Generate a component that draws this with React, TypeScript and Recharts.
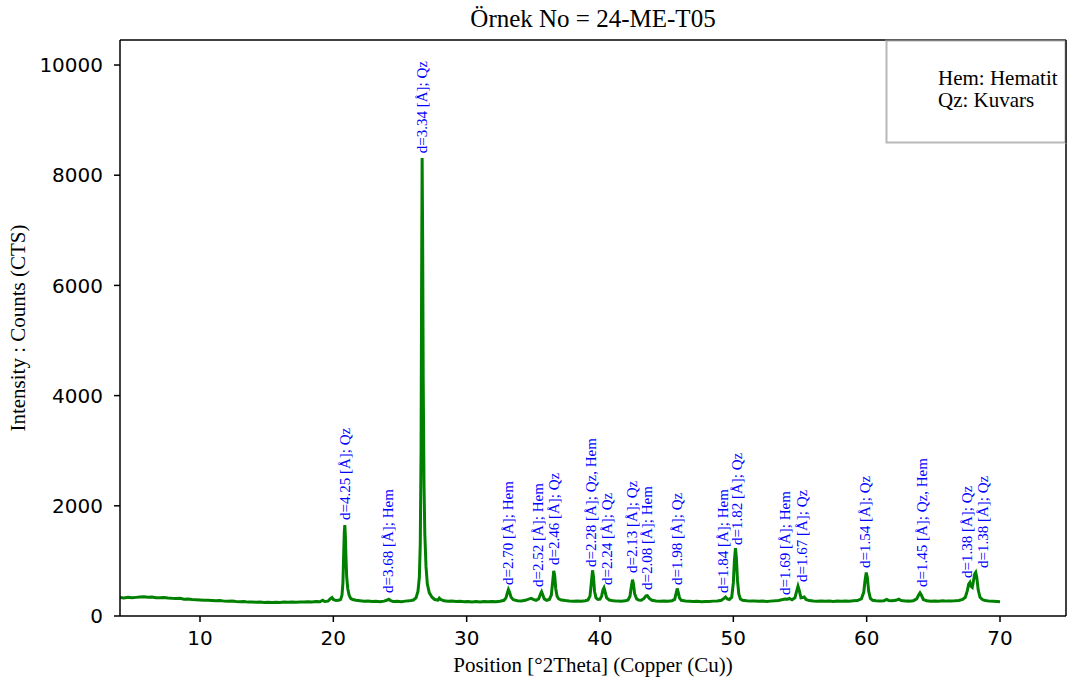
import React from 'react';
import { ComposedChart, Line, Scatter, XAxis, YAxis, ReferenceLine } from 'recharts';

// XRD scan: [2Theta (deg), counts]
const scan: [number, number][] = [
  [4.0, 335], [4.3, 328], [4.6, 340], [4.9, 332], [5.2, 338], [5.5, 345], [5.8, 350], [6.1, 341],
  [6.4, 346], [6.7, 333], [7.0, 330], [7.3, 337], [7.6, 325], [7.9, 320], [8.2, 318], [8.5, 322],
  [8.8, 305], [9.1, 308], [9.4, 300], [9.7, 296], [10.0, 292], [10.3, 288], [10.6, 284], [10.9, 280],
  [11.2, 276], [11.5, 281], [11.8, 270], [12.1, 266], [12.4, 270], [12.7, 262], [13.0, 258], [13.3, 262],
  [13.6, 252], [13.9, 256], [14.2, 248], [14.5, 253], [14.8, 245], [15.1, 250], [15.4, 243], [15.7, 248],
  [16.0, 246], [16.3, 252], [16.6, 248], [16.9, 254], [17.2, 250], [17.5, 256], [17.8, 252], [18.1, 258],
  [18.4, 255], [18.7, 262], [19.0, 258], [19.2, 285], [19.35, 262], [19.6, 270], [19.8, 320], [19.9, 335],
  [20.0, 300], [20.2, 280], [20.4, 285], [20.55, 300], [20.65, 380], [20.72, 600], [20.78, 1150],
  [20.82, 1500], [20.86, 1650], [20.9, 1480], [20.95, 1050], [21.0, 720], [21.08, 500], [21.18, 380],
  [21.3, 320], [21.45, 300], [21.7, 285], [22.0, 278], [22.3, 268], [22.6, 272], [22.9, 262], [23.2, 266],
  [23.5, 258], [23.8, 270], [24.0, 285], [24.15, 305], [24.3, 280], [24.5, 262], [24.8, 268], [25.1, 260],
  [25.4, 270], [25.7, 275], [26.0, 290], [26.2, 330], [26.35, 450], [26.45, 700], [26.52, 1300],
  [26.58, 3000], [26.62, 6000], [26.66, 8310], [26.7, 6800], [26.74, 4300], [26.8, 2400], [26.86, 1500],
  [26.95, 900], [27.05, 580], [27.2, 420], [27.4, 340], [27.6, 300], [27.85, 290], [27.95, 325],
  [28.05, 300], [28.3, 275], [28.6, 268], [28.9, 272], [29.2, 262], [29.5, 266], [29.8, 258], [30.1, 264],
  [30.4, 255], [30.7, 262], [31.0, 256], [31.3, 262], [31.6, 258], [31.9, 264], [32.2, 260], [32.5, 268],
  [32.8, 285], [32.95, 330], [33.05, 420], [33.13, 480], [33.22, 430], [33.33, 340], [33.5, 295],
  [33.8, 278], [34.1, 272], [34.4, 285], [34.7, 310], [34.85, 320], [35.0, 300], [35.2, 285], [35.4, 310],
  [35.54, 400], [35.62, 440], [35.7, 390], [35.82, 310], [36.0, 285], [36.2, 300], [36.35, 380],
  [36.45, 620], [36.53, 820], [36.6, 740], [36.68, 500], [36.78, 360], [36.9, 310], [37.1, 290],
  [37.4, 280], [37.7, 272], [38.0, 268], [38.3, 274], [38.6, 268], [38.9, 276], [39.1, 290], [39.25, 360],
  [39.35, 600], [39.44, 830], [39.51, 720], [39.59, 450], [39.7, 330], [39.85, 300], [40.0, 305],
  [40.12, 360], [40.22, 470], [40.3, 510], [40.38, 440], [40.5, 330], [40.7, 290], [41.0, 275],
  [41.3, 270], [41.6, 268], [41.9, 275], [42.1, 290], [42.25, 360], [42.35, 530], [42.44, 660],
  [42.51, 580], [42.6, 400], [42.75, 310], [42.9, 290], [43.1, 285], [43.3, 320], [43.45, 365],
  [43.55, 370], [43.7, 320], [43.9, 285], [44.2, 272], [44.5, 268], [44.8, 272], [45.1, 266], [45.4, 278],
  [45.6, 300], [45.7, 400], [45.79, 500], [45.87, 430], [45.96, 330], [46.1, 285], [46.4, 272],
  [46.7, 268], [47.0, 262], [47.3, 268], [47.6, 260], [47.9, 264], [48.2, 262], [48.5, 270], [48.8, 272],
  [49.1, 285], [49.3, 320], [49.42, 345], [49.55, 310], [49.7, 300], [49.88, 340], [50.0, 600],
  [50.08, 1000], [50.16, 1230], [50.23, 1050], [50.31, 650], [50.41, 400], [50.53, 310], [50.7, 285],
  [51.0, 275], [51.3, 270], [51.6, 272], [51.9, 266], [52.2, 270], [52.5, 264], [52.8, 270], [53.1, 275],
  [53.4, 282], [53.7, 300], [53.9, 310], [54.05, 305], [54.2, 318], [54.4, 295], [54.62, 330],
  [54.75, 450], [54.85, 540], [54.95, 460], [55.07, 330], [55.2, 335], [55.32, 345], [55.45, 300],
  [55.7, 280], [56.0, 272], [56.3, 268], [56.6, 274], [56.9, 266], [57.2, 270], [57.5, 264], [57.8, 272],
  [58.1, 266], [58.4, 270], [58.7, 268], [59.0, 275], [59.3, 280], [59.6, 310], [59.78, 430],
  [59.88, 650], [59.97, 790], [60.05, 700], [60.15, 450], [60.28, 320], [60.45, 285], [60.7, 275],
  [61.0, 272], [61.3, 278], [61.5, 300], [61.65, 282], [61.9, 275], [62.2, 285], [62.4, 305], [62.6, 280],
  [62.9, 272], [63.2, 270], [63.5, 278], [63.75, 310], [63.9, 380], [64.0, 420], [64.1, 380],
  [64.25, 300], [64.5, 275], [64.8, 270], [65.1, 274], [65.4, 268], [65.7, 276], [66.0, 270], [66.3, 272],
  [66.6, 275], [66.9, 282], [67.2, 300], [67.4, 340], [67.55, 460], [67.65, 580], [67.74, 610],
  [67.82, 540], [67.92, 520], [68.02, 650], [68.1, 760], [68.18, 790], [68.26, 700], [68.36, 480],
  [68.5, 340], [68.7, 295], [68.9, 280], [69.2, 270], [69.5, 266], [69.8, 262], [70.0, 258],
];

// Peak annotations: [2Theta, counts at label start, text]
const peakLabels: [number, number, string][] = [
  [20.87, 1742, 'd=4.25 [Å]; Qz'],
  [24.1, 417, 'd=3.68 [Å]; Hem'],
  [26.65, 8400, 'd=3.34 [Å]; Qz'],
  [33.1, 563, 'd=2.70 [Å]; Hem'],
  [35.35, 526, 'd=2.52 [Å]; Hem'],
  [36.55, 926, 'd=2.46 [Å]; Qz'],
  [39.33, 889, 'd=2.28 [Å]; Qz, Hem'],
  [40.53, 563, 'd=2.24 [Å]; Qz'],
  [42.4, 780, 'd=2.13 [Å]; Qz'],
  [43.53, 472, 'd=2.08 [Å]; Hem'],
  [45.78, 563, 'd=1.98 [Å]; Qz'],
  [49.23, 417, 'd=1.84 [Å]; Hem'],
  [50.28, 1289, 'd=1.82 [Å]; Qz'],
  [53.88, 381, 'd=1.69 [Å]; Hem'],
  [55.15, 617, 'd=1.67 [Å]; Qz'],
  [59.88, 871, 'd=1.54 [Å]; Qz'],
  [64.15, 526, 'd=1.45 [Å]; Qz, Hem'],
  [67.53, 690, 'd=1.38 [Å]; Qz'],
  [68.73, 871, 'd=1.38 [Å]; Qz'],
];

const xTicks = [10, 20, 30, 40, 50, 60, 70];
const yTicks = [0, 2000, 4000, 6000, 8000, 10000];
const legendLines = ['Hem: Hematit', 'Qz: Kuvars'];

const X_MIN = 4;
const X_MAX = 74.95;
const Y_MAX = 10454;

const W = 1069;
const H = 683;

const lineData = scan.map(([x, y]) => ({ x, y }));
const labelData = peakLabels.map(([x, y, text]) => ({ x, y, text }));

const serif = '"Liberation Serif", "Times New Roman", serif';

const LabelShape = (props: any) => {
  const { cx, cy, payload } = props;
  if (cx == null || cy == null) return null;
  return (
    <text
      x={cx}
      y={cy}
      transform={`rotate(-90 ${cx} ${cy})`}
      textAnchor="start"
      dominantBaseline="central"
      fill="#0000ff"
      fontSize={15}
      fontFamily={serif}
    >
      {payload.text}
    </text>
  );
};

export default function App() {
  return (
    <div style={{ position: 'relative', width: W, height: H, background: '#fff' }}>
      <style>{'body{margin:0;overflow:hidden;background:#fff}'}</style>
      <ComposedChart
        width={W}
        height={H}
        margin={{ top: 40, right: 3, bottom: 0, left: 0 }}
      >
        <XAxis
          dataKey="x"
          type="number"
          domain={[X_MIN, X_MAX]}
          ticks={xTicks}
          allowDataOverflow
          height={67}
          tickSize={6}
          tickMargin={9}
          stroke="#000"
          strokeWidth={1.5}
          tick={{ fill: '#000', fontSize: 20, fontFamily: '"DejaVu Sans", sans-serif' }}
        />
        <YAxis
          dataKey="y"
          type="number"
          domain={[0, Y_MAX]}
          ticks={yTicks}
          allowDataOverflow
          width={120}
          tickSize={6}
          tickMargin={11}
          stroke="#000"
          strokeWidth={1.5}
          tick={{ fill: '#000', fontSize: 20, fontFamily: '"DejaVu Sans", sans-serif' }}
        />
        <ReferenceLine y={Y_MAX} stroke="#000" strokeWidth={1.5} />
        <ReferenceLine x={X_MAX} stroke="#000" strokeWidth={1.5} />
        <Line
          data={lineData}
          dataKey="y"
          type="linear"
          stroke="#008000"
          strokeWidth={3}
          dot={false}
          isAnimationActive={false}
        />
        <Scatter
          data={labelData}
          dataKey="y"
          shape={LabelShape}
          isAnimationActive={false}
        />
      </ComposedChart>
      <svg
        width={W}
        height={H}
        style={{ position: 'absolute', left: 0, top: 0, pointerEvents: 'none' }}
      >
        <text x={593} y={27} textAnchor="middle" fontSize={25} fontFamily={serif} fill="#000">
          Örnek No = 24-ME-T05
        </text>
        <text x={593} y={672} textAnchor="middle" fontSize={21} fontFamily={serif} fill="#000">
          Position [°2Theta] (Copper (Cu))
        </text>
        <text
          x={25}
          y={328}
          transform="rotate(-90 25 328)"
          textAnchor="middle"
          fontSize={21}
          fontFamily={serif}
          fill="#000"
        >
          Intensity : Counts (CTS)
        </text>
        <rect x={886.5} y={40.5} width={179} height={102} fill="#fff" stroke="#b8b8b8" strokeWidth={2} />
        <line x1={886} y1={40} x2={1066} y2={40} stroke="#444" strokeWidth={1} />
        <line x1={1066} y1={40} x2={1066} y2={143} stroke="#222" strokeWidth={1.5} />
        {legendLines.map((t, i) => (
          <text key={t} x={938} y={85 + i * 22} fontSize={21} fontFamily={serif} fill="#000">
            {t}
          </text>
        ))}
      </svg>
    </div>
  );
}
